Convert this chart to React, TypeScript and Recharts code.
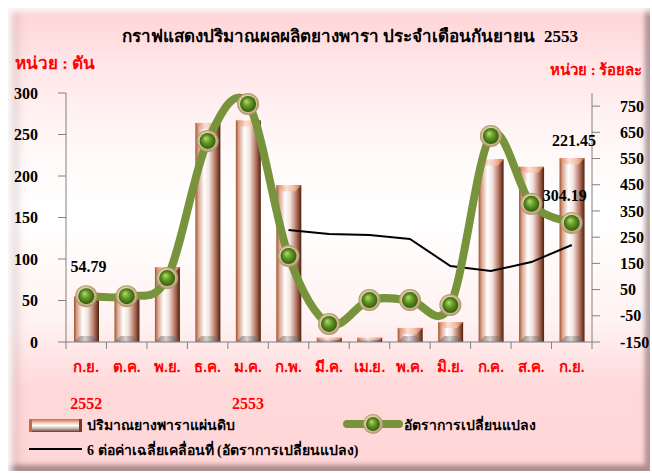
import React from 'react'
import {
  ComposedChart,
  Bar,
  Line,
  XAxis,
  YAxis,
  LabelList,
} from 'recharts'

const months = ['ก.ย.', 'ต.ค.', 'พ.ย.', 'ธ.ค.', 'ม.ค.', 'ก.พ.', 'มี.ค.', 'เม.ย.', 'พ.ค.', 'มิ.ย.', 'ก.ค.', 'ส.ค.', 'ก.ย.']
const years = ['2552', '', '', '', '2553', '', '', '', '', '', '', '', '']
// ปริมาณยางพาราแผ่นดิบ (ตัน)
const volume = [54.79, 55, 90, 264, 267, 189, 5, 5, 17, 24, 220, 211, 221.45]
// อัตราการเปลี่ยนแปลง (ร้อยละ)
const change = [25, 25, 94, 617, 758, 178, -81, 10, 10, -9, 636, 377, 304.19]
// 6 ต่อค่าเฉลี่ยเคลื่อนที่
const movingAvg = [null, null, null, null, null, 277, 262, 258, 243, 140, 121, 155, 220]

const leftTicks = [0, 50, 100, 150, 200, 250, 300]
const rightTicks = [-150, -50, 50, 150, 250, 350, 450, 550, 650, 750]

const data = months.map((m, i) => ({
  month: m,
  year: years[i],
  volume: volume[i],
  change: change[i],
  avg: movingAvg[i],
}))

const FONT = '"Liberation Serif", "Times New Roman", serif'
const BAND = (592 - 66) / months.length

// Excel-like smoothed line (Catmull-Rom)
function smoothCurve(context: any) {
  let pts: number[][] = []
  return {
    areaStart() {},
    areaEnd() {},
    lineStart() {
      pts = []
    },
    point(x: number, y: number) {
      pts.push([+x, +y])
    },
    lineEnd() {
      const n = pts.length
      if (!n) return
      context.moveTo(pts[0][0], pts[0][1])
      for (let i = 0; i < n - 1; i++) {
        const p0 = pts[Math.max(i - 1, 0)]
        const p1 = pts[i]
        const p2 = pts[i + 1]
        const p3 = pts[Math.min(i + 2, n - 1)]
        context.bezierCurveTo(
          p1[0] + (p2[0] - p0[0]) / 6,
          p1[1] + (p2[1] - p0[1]) / 6,
          p2[0] - (p3[0] - p1[0]) / 6,
          p2[1] - (p3[1] - p1[1]) / 6,
          p2[0],
          p2[1]
        )
      }
    },
  }
}

function BarShape(props: any) {
  const { x, y, width, height } = props
  if (!height || height <= 0) return null
  const c = Math.min(6, height / 2)
  return (
    <g>
      <rect x={x} y={y} width={width} height={height} fill="url(#barGrad)" />
      <polygon
        points={`${x},${y} ${x + width},${y} ${x + width - c},${y + c} ${x + c},${y + c}`}
        fill="url(#capGrad)"
      />
      <polygon
        points={`${x},${y + height} ${x + width},${y + height} ${x + width - c},${y + height - c} ${x + c},${y + height - c}`}
        fill="url(#baseGrad)"
      />
    </g>
  )
}

function Ball({ cx, cy, size = 11 }: any) {
  if (cx == null || cy == null) return null
  return (
    <g>
      <circle cx={cx} cy={cy} r={size} fill="url(#ringGrad)" />
      <circle cx={cx} cy={cy} r={size - 3} fill="url(#ballGrad)" />
    </g>
  )
}

function MonthTick(props: any) {
  const { x, y, payload, index } = props
  const yr = years[index]
  return (
    <g>
      <line x1={x - BAND / 2} x2={x - BAND / 2} y1={y} y2={y + 7} stroke="#808080" />
      {index === months.length - 1 && (
        <line x1={x + BAND / 2} x2={x + BAND / 2} y1={y} y2={y + 7} stroke="#808080" />
      )}
      <text x={x} y={y + 25} textAnchor="middle" dominantBaseline="central" fill="#FF0000" fontWeight="bold" fontSize={15} fontFamily={FONT}>
        {payload.value}
      </text>
      {yr && (
        <text x={x} y={y + 61} textAnchor="middle" dominantBaseline="central" fill="#FF0000" fontWeight="bold" fontSize={16} fontFamily={FONT}>
          {yr}
        </text>
      )}
    </g>
  )
}

const barLabelOffset: Record<number, number> = { 0: -30, 12: -18 }

function BarLabel(props: any) {
  const { x, y, width, value, index } = props
  if (!(index in barLabelOffset)) return null
  return (
    <text x={x + width / 2 + 2} y={y + barLabelOffset[index]} textAnchor="middle" dominantBaseline="central" fontWeight="bold" fontSize={16} fontFamily={FONT} fill="#000">
      {value}
    </text>
  )
}

function LineLabel(props: any) {
  const { x, y, value, index } = props
  if (index !== months.length - 1) return null
  return (
    <text x={x - 7} y={y - 27} textAnchor="middle" dominantBaseline="central" fontWeight="bold" fontSize={16} fontFamily={FONT} fill="#000">
      {value}
    </text>
  )
}

export default function App() {
  return (
    <div style={{ position: 'relative', width: 652, height: 473, background: '#fff', overflow: 'hidden', fontFamily: FONT }}>
      <style>{'body{margin:0}'}</style>
      <svg width={0} height={0} style={{ position: 'absolute' }}>
        <defs>
          <linearGradient id="barGrad" x1="0" y1="0" x2="1" y2="0">
            <stop offset="0%" stopColor="#A0502C" />
            <stop offset="12%" stopColor="#D9A48E" />
            <stop offset="35%" stopColor="#FFFFFF" />
            <stop offset="55%" stopColor="#F2E2DD" />
            <stop offset="80%" stopColor="#B47460" />
            <stop offset="100%" stopColor="#4E200E" />
          </linearGradient>
          <linearGradient id="capGrad" x1="0" y1="0" x2="1" y2="0">
            <stop offset="0%" stopColor="#E07A50" />
            <stop offset="40%" stopColor="#FBE0D4" />
            <stop offset="70%" stopColor="#F4B8A0" />
            <stop offset="100%" stopColor="#D86A40" />
          </linearGradient>
          <linearGradient id="baseGrad" x1="0" y1="0" x2="1" y2="0">
            <stop offset="0%" stopColor="#8A6A60" />
            <stop offset="45%" stopColor="#D8D0D0" />
            <stop offset="100%" stopColor="#5A3A30" />
          </linearGradient>
          <radialGradient id="ringGrad" cx="50%" cy="50%" r="50%" fx="40%" fy="35%">
            <stop offset="0%" stopColor="#FFF4DC" />
            <stop offset="70%" stopColor="#E2D0A8" />
            <stop offset="100%" stopColor="#A89064" />
          </radialGradient>
          <radialGradient id="ballGrad" cx="50%" cy="50%" r="55%" fx="38%" fy="32%">
            <stop offset="0%" stopColor="#B6DC6E" />
            <stop offset="45%" stopColor="#649A26" />
            <stop offset="100%" stopColor="#2E520A" />
          </radialGradient>
        </defs>
      </svg>
      <div
        style={{
          position: 'absolute',
          left: 8,
          top: 8,
          width: 642,
          height: 463,
          background: 'linear-gradient(to bottom, #FFD3D6 0%, #FFE6E8 12%, #FFF8F8 30%, #FFFFFF 45%, #FFF2F2 68%, #FFD9DA 82%, #FFD6D7 100%)',
          boxShadow: 'inset 4px 4px 6px rgba(255,255,255,0.9), inset -5px -6px 5px rgba(110,80,80,0.55), inset 10px 0 10px rgba(150,120,120,0.25)',
        }}
      />
      <div style={{ position: 'absolute', left: 0, width: 700, top: 22, textAlign: 'center', fontSize: 17, fontWeight: 'bold', color: '#000', whiteSpace: 'nowrap' }}>
        กราฟแสดงปริมาณผลผลิตยางพารา ประจำเดือนกันยายน&nbsp;&nbsp;2553
      </div>
      <div style={{ position: 'absolute', left: 15, top: 49, fontSize: 17, fontWeight: 'bold', color: '#FF0000', whiteSpace: 'nowrap' }}>
        หน่วย : ตัน
      </div>
      <div style={{ position: 'absolute', left: 550, top: 58, fontSize: 15, fontWeight: 'bold', color: '#FF0000', whiteSpace: 'nowrap' }}>
        หน่วย : ร้อยละ
      </div>
      <div style={{ position: 'absolute', left: 0, top: 0 }}>
        <ComposedChart width={652} height={473} data={data} margin={{ top: 93, right: 0, bottom: 101, left: 0 }}>
          <XAxis
            dataKey="month"
            xAxisId="x"
            interval={0}
            height={30}
            tickLine={false}
            tickSize={0}
            tickMargin={0}
            axisLine={{ stroke: '#808080' }}
            tick={<MonthTick />}
          />
          <YAxis
            yAxisId="left"
            domain={[0, 300]}
            ticks={leftTicks}
            width={66}
            tickSize={8}
            tickMargin={20}
            axisLine={{ stroke: '#808080' }}
            tickLine={{ stroke: '#808080' }}
            tick={{ fill: '#000', fontSize: 16, fontWeight: 'bold', fontFamily: FONT }}
          />
          <YAxis
            yAxisId="right"
            orientation="right"
            domain={[-150, 800]}
            ticks={rightTicks}
            width={60}
            tickSize={8}
            tickMargin={20}
            axisLine={{ stroke: '#808080' }}
            tickLine={{ stroke: '#808080' }}
            tick={{ fill: '#000', fontSize: 16, fontWeight: 'bold', fontFamily: FONT, textAnchor: 'start' }}
          />
          <Bar dataKey="volume" xAxisId="x" yAxisId="left" barSize={25} shape={<BarShape />} isAnimationActive={false}>
            <LabelList dataKey="volume" content={<BarLabel />} />
          </Bar>
          <Line
            dataKey="avg"
            xAxisId="x"
            yAxisId="right"
            type="linear"
            stroke="#000"
            strokeWidth={2}
            dot={false}
            activeDot={false}
            connectNulls={false}
            isAnimationActive={false}
          />
          <Line
            dataKey="change"
            xAxisId="x"
            yAxisId="right"
            type={smoothCurve as any}
            stroke="#77933C"
            strokeWidth={8}
            dot={(p: any) => <Ball key={p.index} cx={p.cx} cy={p.cy} size={11} />}
            activeDot={false}
            isAnimationActive={false}
          >
            <LabelList dataKey="change" content={<LineLabel />} />
          </Line>
        </ComposedChart>
      </div>
      {/* legend */}
      <div
        style={{
          position: 'absolute',
          left: 29,
          top: 419,
          width: 53,
          height: 13,
          background: 'linear-gradient(to bottom, #C8693F 0%, #EFC6B4 28%, #FFFFFF 50%, #BDB0AE 75%, #74361A 100%)',
          borderLeft: '3px solid #C86A40',
          borderRight: '3px solid #7A3A1C',
          boxSizing: 'border-box',
        }}
      />
      <div style={{ position: 'absolute', left: 87, top: 414, fontSize: 14, fontWeight: 'bold', color: '#000', whiteSpace: 'nowrap' }}>
        ปริมาณยางพาราแผ่นดิบ
      </div>
      <svg style={{ position: 'absolute', left: 343, top: 412 }} width={60} height={24}>
        <line x1={4} x2={56} y1={12} y2={12} stroke="#77933C" strokeWidth={8} strokeLinecap="round" />
        <Ball cx={30} cy={12} size={10} />
      </svg>
      <div style={{ position: 'absolute', left: 404, top: 414, fontSize: 14, fontWeight: 'bold', color: '#000', whiteSpace: 'nowrap' }}>
        อัตราการเปลี่ยนแปลง
      </div>
      <div style={{ position: 'absolute', left: 29, top: 448, width: 53, height: 2, background: '#000' }} />
      <div style={{ position: 'absolute', left: 87, top: 439, fontSize: 14, fontWeight: 'bold', color: '#000', whiteSpace: 'nowrap' }}>
        6 ต่อค่าเฉลี่ยเคลื่อนที่ (อัตราการเปลี่ยนแปลง)
      </div>
    </div>
  )
}
